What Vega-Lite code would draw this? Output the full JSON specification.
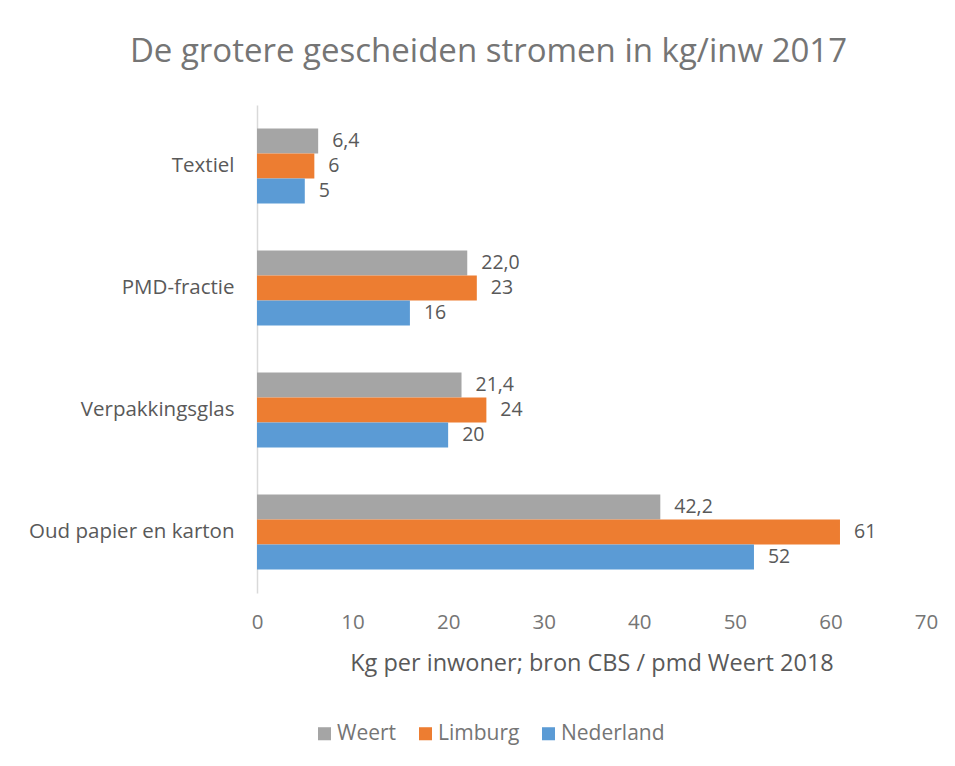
{
  "$schema": "https://vega.github.io/schema/vega-lite/v6.json",
  "autosize": "none",
  "width": 669,
  "height": 488,
  "padding": {"left": 257, "top": 105, "right": 29, "bottom": 173},
  "background": "white",
  "title": {
    "text": "De grotere gescheiden stromen in kg/inw 2017",
    "fontSize": 33,
    "font": "Open Sans",
    "fontWeight": "normal",
    "color": "#757575",
    "anchor": "middle",
    "dx": -103,
    "offset": 36
  },
  "config": {
    "view": {"stroke": null},
    "font": "Open Sans"
  },
  "data": {
    "values": [
      {"categorie": "Textiel", "regio": "Weert", "waarde": 6.4, "label": "6,4"},
      {"categorie": "Textiel", "regio": "Limburg", "waarde": 6, "label": "6"},
      {"categorie": "Textiel", "regio": "Nederland", "waarde": 5, "label": "5"},
      {"categorie": "PMD-fractie", "regio": "Weert", "waarde": 22.0, "label": "22,0"},
      {"categorie": "PMD-fractie", "regio": "Limburg", "waarde": 23, "label": "23"},
      {"categorie": "PMD-fractie", "regio": "Nederland", "waarde": 16, "label": "16"},
      {"categorie": "Verpakkingsglas", "regio": "Weert", "waarde": 21.4, "label": "21,4"},
      {"categorie": "Verpakkingsglas", "regio": "Limburg", "waarde": 24, "label": "24"},
      {"categorie": "Verpakkingsglas", "regio": "Nederland", "waarde": 20, "label": "20"},
      {"categorie": "Oud papier en karton", "regio": "Weert", "waarde": 42.2, "label": "42,2"},
      {"categorie": "Oud papier en karton", "regio": "Limburg", "waarde": 61, "label": "61"},
      {"categorie": "Oud papier en karton", "regio": "Nederland", "waarde": 52, "label": "52"}
    ]
  },
  "encoding": {
    "y": {
      "field": "categorie",
      "type": "nominal",
      "sort": ["Textiel", "PMD-fractie", "Verpakkingsglas", "Oud papier en karton"],
      "scale": {"paddingInner": 0.385, "paddingOuter": 0.1925},
      "axis": {
        "title": null,
        "ticks": false,
        "domainColor": "#d9d9d9",
        "domainWidth": 1.5,
        "labelFontSize": 20.5,
        "labelColor": "#595959",
        "labelPadding": 23,
        "labelLimit": 400,
        "labelFont": "Open Sans"
      }
    },
    "yOffset": {
      "field": "regio",
      "type": "nominal",
      "sort": ["Weert", "Limburg", "Nederland"],
      "scale": {"paddingInner": 0, "paddingOuter": 0}
    },
    "x": {
      "field": "waarde",
      "type": "quantitative",
      "scale": {"domain": [0, 70], "nice": false},
      "axis": {
        "title": "Kg per inwoner; bron CBS / pmd Weert 2018",
        "titleFontSize": 23.5,
        "titleFontWeight": "normal",
        "titleColor": "#595959",
        "titlePadding": 19,
        "values": [0, 10, 20, 30, 40, 50, 60, 70],
        "grid": false,
        "domain": false,
        "ticks": false,
        "labelFlush": false,
        "labelFontSize": 20.5,
        "labelColor": "#757575",
        "labelPadding": 19,
        "labelFont": "Open Sans",
        "titleFont": "Open Sans"
      }
    }
  },
  "layer": [
    {
      "mark": {"type": "bar"},
      "encoding": {
        "color": {
          "field": "regio",
          "type": "nominal",
          "sort": ["Weert", "Limburg", "Nederland"],
          "scale": {"domain": ["Weert", "Limburg", "Nederland"], "range": ["#a5a5a5", "#ed7d31", "#5b9bd5"]},
          "legend": {
            "title": null,
            "orient": "none",
            "legendX": 57,
            "legendY": 618,
            "direction": "horizontal",
            "columns": 3,
            "columnPadding": 18,
            "symbolType": "square",
            "symbolSize": 170,
            "symbolStrokeWidth": 0,
            "labelFontSize": 21,
            "labelColor": "#757575",
            "labelFont": "Open Sans",
            "labelOffset": 2
          }
        }
      }
    },
    {
      "mark": {"type": "text", "align": "left", "baseline": "middle", "dx": 14, "fontSize": 19.5, "color": "#595959", "font": "Open Sans"},
      "encoding": {
        "text": {"field": "label", "type": "nominal"}
      }
    }
  ]
}
